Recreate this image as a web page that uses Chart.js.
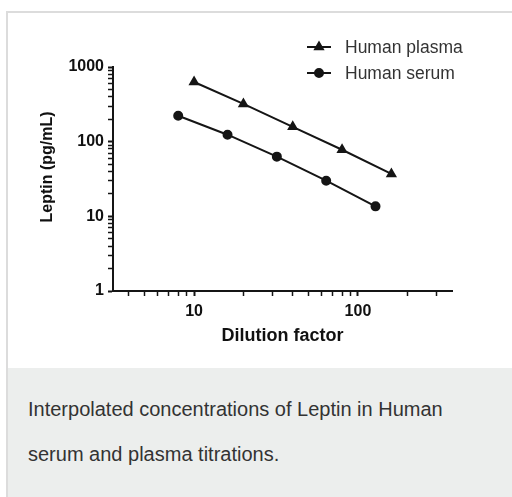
<!DOCTYPE html>
<html>
<head>
<meta charset="utf-8">
<script src="https://cdn.jsdelivr.net/npm/chart.js@4.4.1/dist/chart.umd.min.js"></script>
<style>
  html, body { margin:0; padding:0; background:#fff; }
  body { width:512px; height:497px; position:relative; overflow:hidden; font-family:"Liberation Sans", Arial, sans-serif; }
  #frame { position:absolute; left:6px; top:11px; width:504px; height:486px; border-left:2px solid #dcdcdc; border-top:2px solid #dcdcdc; }
  #caption { position:absolute; left:8px; top:368px; width:504px; height:129px; background:#eceeed; box-sizing:border-box;
             padding:19px 30px 0 20px; font-size:20px; line-height:45px; color:#333; }
  #wrap { position:absolute; left:0; top:0; width:512px; height:368px; }
</style>
</head>
<body>
<div id="frame"></div>
<div id="wrap"><canvas id="chart" width="512" height="368"></canvas></div>
<div id="caption">Interpolated concentrations of Leptin in Human serum and plasma titrations.</div>
<script>
// values
const plasmaDilution = [10, 20, 40, 80, 160];
const plasmaLeptin   = [630, 320, 158, 78, 37];
const serumDilution  = [8, 16, 32, 64, 128];
const serumLeptin    = [222, 124, 63, 30, 13.6];

const xTickVals  = [4,5,6,7,8,9,10,20,30,40,50,60,70,80,90,100,200,300];
const xTickLabels = {10:'10', 100:'100'};
const yTickVals  = [1,2,3,4,5,6,7,8,9,10,20,30,40,50,60,70,80,90,100,200,300,400,500,600,700,800,900,1000];
const yTickLabels = {1:'1', 10:'10', 100:'100', 1000:'1000'};
const yTitle = 'Leptin (pg/mL)';

const ink = '#151515';
const FONT = '"Liberation Sans", Arial, sans-serif';

const toPts = (xs, ys) => xs.map((x, i) => ({x, y: ys[i]}));

// legend (short line with the marker in the middle) and the y title, which sits
// a little above the middle of the axis in the original
const extras = {
  id: 'extras',
  afterDraw(chart) {
    const ctx = chart.ctx;
    chart.data.datasets.forEach((ds, i) => {
      const y = 47 + i * 26;
      ctx.save();
      ctx.strokeStyle = ink;
      ctx.lineWidth = 2;
      ctx.beginPath(); ctx.moveTo(307, y); ctx.lineTo(331, y); ctx.stroke();
      ctx.fillStyle = ink;
      Chart.helpers.drawPoint(ctx, {pointStyle: ds.pointStyle, radius: ds.pointRadius, borderWidth: 1, rotation: 0}, 319, y);
      ctx.fillStyle = '#333';
      ctx.font = '17.5px ' + FONT;
      ctx.textBaseline = 'middle';
      ctx.fillText(ds.label, 345, y + 1);
      ctx.restore();
    });
    ctx.save();
    ctx.translate(48, 167);
    ctx.rotate(-Math.PI / 2);
    ctx.font = 'bold 16px ' + FONT;
    ctx.fillStyle = '#111';
    ctx.textAlign = 'center';
    ctx.textBaseline = 'middle';
    ctx.fillText(yTitle, 0, 0);
    ctx.restore();
  }
};

const tickSetter = (vals) => (scale) => {
  scale.ticks = vals.map(v => ({value: v, major: v === Math.pow(10, Math.round(Math.log10(v)))}));
};

new Chart(document.getElementById('chart').getContext('2d'), {
  type: 'scatter',
  data: {
    datasets: [
      { label:'Human plasma', data: toPts(plasmaDilution, plasmaLeptin), showLine:true,
        borderColor: ink, backgroundColor: ink, borderWidth: 2, pointStyle:'triangle', pointRadius:4.5 },
      { label:'Human serum', data: toPts(serumDilution, serumLeptin), showLine:true,
        borderColor: ink, backgroundColor: ink, borderWidth: 2, pointStyle:'circle', pointRadius:4 }
    ]
  },
  options: {
    responsive:false, animation:false, events:[],
    layout:{ padding:{ left:0, top:67, right:60, bottom:0 } },
    plugins:{ legend:{display:false}, tooltip:{enabled:false} },
    scales:{
      x:{
        type:'logarithmic', min:3.2, max:375,
        afterBuildTicks: tickSetter(xTickVals),
        afterFit: s => { s.height = 77; },
        border:{ display:true, color:ink, width:2 },
        grid:{ drawOnChartArea:false, drawTicks:true, tickLength:5, tickColor:ink,
               tickWidth: c => c.tick && c.tick.major ? 2 : 1.5 },
        ticks:{ autoSkip:false, maxRotation:0, padding:6, color:'#111',
                font:{ family:FONT, size:16, weight:'bold' },
                callback: v => xTickLabels[v] || '' },
        title:{ display:true, text:'Dilution factor', color:'#111', padding:{bottom:21},
                font:{ family:FONT, size:18, weight:'bold' } }
      },
      y:{
        type:'logarithmic', min:1, max:1000,
        afterBuildTicks: tickSetter(yTickVals),
        afterFit: s => { s.width = 113; },
        border:{ display:true, color:ink, width:2 },
        grid:{ drawOnChartArea:false, drawTicks:true, tickLength:5, tickColor:ink,
               tickWidth: c => c.tick && c.tick.major ? 2 : 1.5 },
        ticks:{ autoSkip:false, padding:4, color:'#111',
                font:{ family:FONT, size:16, weight:'bold' },
                callback: v => yTickLabels[v] || '' },
        title:{ display:false }
      }
    }
  },
  plugins:[extras]
});
</script>
</body>
</html>
